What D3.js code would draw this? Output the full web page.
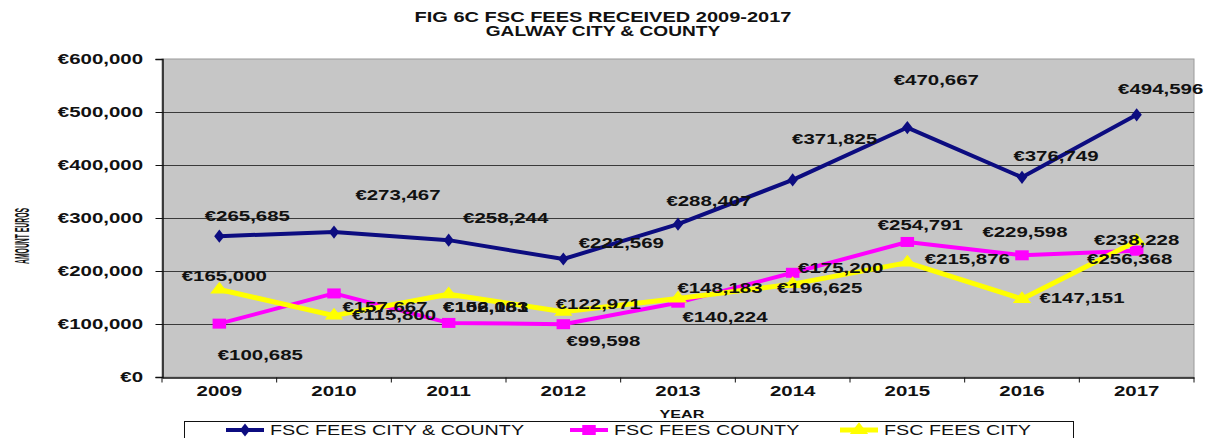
<!DOCTYPE html>
<html>
<head>
<meta charset="utf-8">
<script src="https://cdn.jsdelivr.net/npm/d3@7/dist/d3.min.js"></script>
<style>
  body { margin: 0; background: #fff; }
  svg { display: block; font-family: 'Liberation Sans', Arial, sans-serif; }
</style>
</head>
<body>
<svg id="chart" width="1216" height="438"></svg>
<script>
/* eslint-env browser */
/* global d3: false */

const years = ['2009', '2010', '2011', '2012', '2013', '2014', '2015', '2016', '2017'];
const cityCounty = [265685, 273467, 258244, 222569, 288407, 371825, 470667, 376749, 494596];
const county = [100685, 157667, 102061, 99598, 140224, 196625, 254791, 229598, 238228];
const city = [165000, 115800, 156183, 122971, 148183, 175200, 215876, 147151, 256368];
const yTicks = [0, 100000, 200000, 300000, 400000, 500000, 600000];
const seriesNames = ['FSC FEES CITY & COUNTY', 'FSC FEES COUNTY', 'FSC FEES CITY'];

// hand placed label nudges, [dx, dy] from the point to the label centre
const cityCountyNudge = [[28, -20], [64, -37], [57, -22], [58, -16], [31, -23], [42, -41], [29, -47], [34, -21], [24, -26]];
const countyNudge = [[41, 31], [51, 14], [37, -16], [40, 17], [47, 14], [27, 15], [13, -17], [3, -23], [0, -11]];
const cityNudge = [[5, -13], [60, -1], [37, 13], [35, -8], [42, -10], [48, -16], [60, -3], [60, -1], [-7, 18]];

const svg = d3.select('#chart');
const plotLeft = 162;
const plotRight = 1194;
const plotTop = 59;
const plotBottom = 377;
const stretch = 1.46;

const x = d3.scaleBand().domain(years).range([plotLeft, plotRight]);
const y = d3.scaleLinear().domain([0, 600000]).range([plotBottom, plotTop]);
const cx = d => x(d) + x.bandwidth() / 2;
const euro = v => `€${d3.format(',')(v)}`;

// wide, squat text like the original picture
function label(g, tx, ty, txt, size, sx, anchor, weight) {
  return g.append('text')
    .attr('transform', `translate(${tx},${ty}) scale(${sx},1)`)
    .attr('text-anchor', anchor || 'middle')
    .attr('dy', '0.35em')
    .attr('font-size', size)
    .attr('font-weight', weight || 'bold')
    .attr('fill', '#111')
    .text(txt);
}

// title
label(svg, 603, 17, 'FIG 6C FSC FEES RECEIVED 2009-2017', 14.5, 1.38);
label(svg, 603, 31, 'GALWAY CITY & COUNTY', 14.5, 1.32);

// plot area
svg.append('rect')
  .attr('x', plotLeft).attr('y', plotTop)
  .attr('width', plotRight - plotLeft).attr('height', plotBottom - plotTop)
  .attr('fill', '#c6c6c6')
  .attr('stroke', '#9a9a9a');

svg.append('g')
  .selectAll('line')
  .data(yTicks.filter(t => t > 0 && t < 600000))
  .enter()
  .append('line')
  .attr('x1', plotLeft).attr('x2', plotRight)
  .attr('y1', d => Math.round(y(d)) + 0.5).attr('y2', d => Math.round(y(d)) + 0.5)
  .attr('stroke', '#3a3a3a');

// y axis
const yAxis = svg.append('g')
  .attr('transform', `translate(${plotLeft + 0.5},0)`)
  .call(d3.axisLeft(y).tickValues(yTicks).tickSize(7).tickFormat(''));
yAxis.select('.domain').attr('stroke', '#111').attr('stroke-width', 1.5);
yAxis.selectAll('.tick line').attr('stroke', '#111');
yTicks.forEach((t) => {
  label(svg, 143, y(t), euro(t), 14, stretch, 'end');
});

// x axis
const xAxis = svg.append('g')
  .attr('transform', `translate(0,${plotBottom + 0.5})`)
  .call(d3.axisBottom(x).tickSize(0).tickFormat(''));
xAxis.select('.domain').attr('stroke', '#111').attr('stroke-width', 1.5);
xAxis.selectAll('.xb')
  .data(d3.range(years.length + 1))
  .enter()
  .append('line')
  .attr('class', 'xb')
  .attr('x1', i => plotLeft + i * x.step()).attr('x2', i => plotLeft + i * x.step())
  .attr('y1', 0).attr('y2', 5)
  .attr('stroke', '#111');
years.forEach((yr) => {
  label(svg, cx(yr), 391, yr, 14, stretch);
});

label(svg, 682, 414, 'YEAR', 11, 1.47);

svg.append('text')
  .attr('transform', 'translate(22,236) rotate(-90) scale(0.62,1.85)')
  .attr('text-anchor', 'middle')
  .attr('dy', '0.35em')
  .attr('font-size', 11)
  .attr('font-weight', 'bold')
  .attr('fill', '#111')
  .text('AMOUNT EUROS');

// series
const series = [
  { name: seriesNames[0], values: cityCounty, nudge: cityCountyNudge, color: '#0c0c80', width: 4, shape: d3.symbolDiamond, size: 50 },
  { name: seriesNames[1], values: county, nudge: countyNudge, color: '#ff00ff', width: 4, shape: d3.symbolSquare, size: 100 },
  { name: seriesNames[2], values: city, nudge: cityNudge, color: '#ffff00', width: 5, shape: d3.symbolTriangle, size: 80 },
];

const line = d3.line()
  .x((d, i) => cx(years[i]))
  .y(d => y(d));

series.forEach((s) => {
  const g = svg.append('g');
  g.append('path')
    .attr('d', line(s.values))
    .attr('fill', 'none')
    .attr('stroke', s.color)
    .attr('stroke-width', s.width)
    .attr('stroke-linejoin', 'round');
  g.selectAll('path.mark')
    .data(s.values)
    .enter()
    .append('path')
    .attr('class', 'mark')
    .attr('d', d3.symbol().type(s.shape).size(s.size))
    .attr('transform', (d, i) => `translate(${cx(years[i])},${y(d)}) scale(1.35,1)`)
    .attr('fill', s.color);
});

// data labels go on top of all lines
series.forEach((s) => {
  const g = svg.append('g');
  s.values.forEach((v, i) => {
    label(g, cx(years[i]) + s.nudge[i][0], y(v) + s.nudge[i][1], euro(v), 14, stretch);
  });
});

// legend
svg.append('rect')
  .attr('x', 184.5).attr('y', 421.5)
  .attr('width', 889).attr('height', 40)
  .attr('fill', '#fff')
  .attr('stroke', '#111');

const legendX = [226, 570, 840];
series.forEach((s, i) => {
  const g = svg.append('g');
  g.append('line')
    .attr('x1', legendX[i]).attr('x2', legendX[i] + 38)
    .attr('y1', 430).attr('y2', 430)
    .attr('stroke', s.color)
    .attr('stroke-width', s.width);
  g.append('path')
    .attr('d', d3.symbol().type(s.shape).size(s.size))
    .attr('transform', `translate(${legendX[i] + 19},430) scale(1.35,1)`)
    .attr('fill', s.color);
  label(g, legendX[i] + 44, 430, s.name, 14, 1.41, 'start', 'normal');
});
</script>
</body>
</html>
